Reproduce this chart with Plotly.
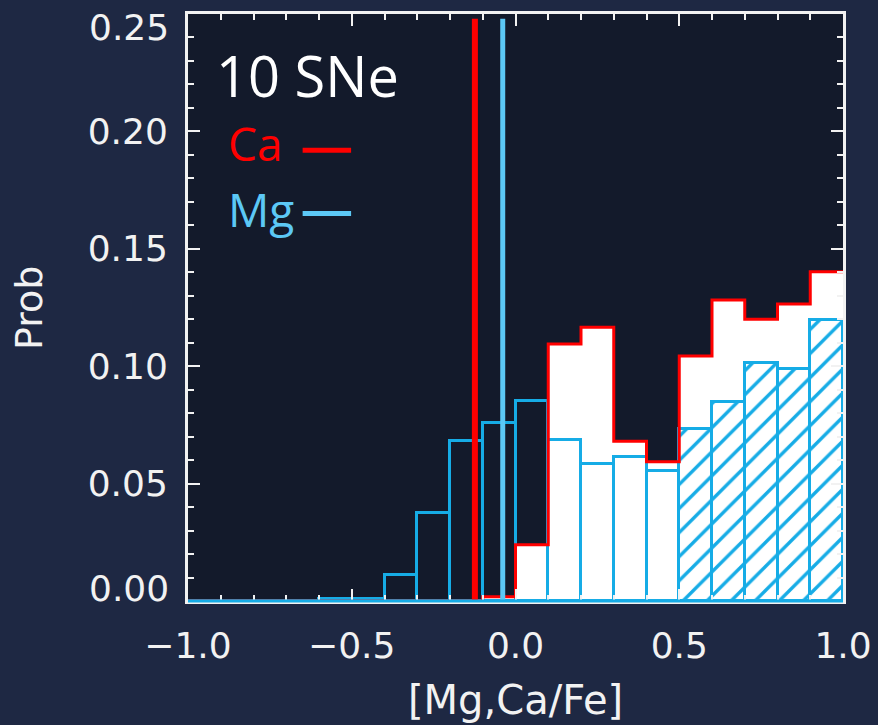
import plotly.graph_objects as go

# Histogram bins: left edges from -1.0 to 0.9, width 0.1
bin_left = [round(-1.0 + 0.1 * i, 1) for i in range(20)]
bin_width = 0.1

# Probability per bin
ca_prob = [0, 0, 0, 0, 0, 0, 0, 0, 0, 0.0018,
           0.024, 0.1095, 0.1166, 0.068, 0.0593, 0.1043, 0.1282, 0.120, 0.1265, 0.1402]
mg_prob = [0, 0, 0, 0, 0.0009, 0.0009, 0.011, 0.0375, 0.068, 0.0757,
           0.085, 0.0686, 0.0582, 0.0615, 0.0555, 0.0731, 0.0849, 0.1015, 0.0987, 0.1197]

# Mean abundance ratios
ca_mean = -0.124
mg_mean = -0.039

# Bins drawn with a hatched fill for Mg
mg_hatch_from = 0.5

x_tickvals = [-1.0, -0.5, 0.0, 0.5, 1.0]
x_ticktext = ["\u22121.0", "\u22120.5", "0.0", "0.5", "1.0"]
# inner y labels go on the axis; the two end labels are set just inside the frame
y_tickvals = [0.05, 0.10, 0.15, 0.20]
y_ticktext = ["0.05", "0.10", "0.15", "0.20"]
y_end_vals = [0.0, 0.25]
y_end_text = ["0.00", "0.25"]

RED = "#ff0000"
MG_BAR = "#16ace6"
MG_LINE = "#5cc8f6"
WHITE = "#f2f2f2"
OUTER_BG = "#1e2843"
INNER_BG = "#131a2b"

centers = [round(x + bin_width / 2, 3) for x in bin_left]
fig = go.Figure()

# Ca: white filled bars
fig.add_trace(go.Bar(
    x=centers, y=ca_prob, width=bin_width,
    marker=dict(color="white", line=dict(width=0)),
    showlegend=False, hoverinfo="skip",
))

# Ca: red step outline
step_x = bin_left + [round(bin_left[-1] + bin_width, 1)]
step_y = ca_prob + [ca_prob[-1]]
fig.add_trace(go.Scatter(
    x=step_x, y=step_y, mode="lines",
    line=dict(color=RED, width=3, shape="hv"),
    showlegend=False, hoverinfo="skip",
))

# Mg: outlined bars, hatched in the upper bins
shapes_mg = ["/" if x >= mg_hatch_from - 1e-9 else "" for x in bin_left]
fig.add_trace(go.Bar(
    x=centers, y=mg_prob, width=bin_width,
    marker=dict(
        color="rgba(0,0,0,0)",
        line=dict(color=MG_BAR, width=3),
        pattern=dict(shape=shapes_mg, fgcolor=MG_BAR, fgopacity=1,
                     bgcolor="rgba(0,0,0,0)",
                     size=17, solidity=0.2, fillmode="overlay"),
    ),
    showlegend=False, hoverinfo="skip",
))

# Mean lines
fig.add_trace(go.Scatter(
    x=[ca_mean, ca_mean], y=[0, 0.248], mode="lines",
    line=dict(color=RED, width=6), showlegend=False, hoverinfo="skip",
))
fig.add_trace(go.Scatter(
    x=[mg_mean, mg_mean], y=[0, 0.248], mode="lines",
    line=dict(color=MG_LINE, width=5), showlegend=False, hoverinfo="skip",
))

TICK_SIZE = 36
axis_font = dict(family="DejaVu Sans", size=TICK_SIZE, color=WHITE)
common = dict(
    showgrid=False, zeroline=False, showline=True, linecolor=WHITE, linewidth=3,
    mirror="allticks", ticks="inside", tickcolor=WHITE, tickwidth=2, ticklen=12,
    tickfont=axis_font, ticklabeloverflow="allow", automargin=False,
)

fig.update_xaxes(
    range=[-1, 1], tickvals=x_tickvals, ticktext=x_ticktext,
    ticklabelstandoff=11,
    minor=dict(dtick=0.1, ticks="inside", ticklen=6, tickcolor=WHITE, tickwidth=2),
    **common,
)
fig.update_yaxes(
    range=[0, 0.25],
    tickvals=y_end_vals[:1] + y_tickvals + y_end_vals[1:],
    ticktext=[""] + y_ticktext + [""],
    ticklabelstandoff=10,
    minor=dict(dtick=0.01, ticks="inside", ticklen=6, tickcolor=WHITE, tickwidth=2),
    **common,
)

W, H = 878, 725
ML, MR, MT, MB = 188, 35, 14, 124
pw, ph = W - ML - MR, H - MT - MB

annotations = [
    dict(text="10 SNe", x=-0.92, y=0.224, xref="x", yref="y", xanchor="left", yanchor="middle",
         showarrow=False, font=dict(family="Open Sans", size=56, color="white")),
    dict(text="Ca", x=-0.885, y=0.195, xref="x", yref="y", xanchor="left", yanchor="middle",
         showarrow=False, font=dict(family="Open Sans", size=46, color=RED)),
    dict(text="Mg", x=-0.885, y=0.167, xref="x", yref="y", xanchor="left", yanchor="middle",
         showarrow=False, font=dict(family="Open Sans", size=46, color=MG_LINE)),
    dict(text="Prob", x=(29 - ML) / pw, y=(H - MB - 308) / ph, xref="paper", yref="paper",
         showarrow=False, textangle=-90, xanchor="center", yanchor="middle",
         font=dict(family="DejaVu Sans", size=38, color=WHITE)),
    dict(text="[Mg,Ca/Fe]", x=(515 - ML) / pw, y=(H - MB - 700) / ph, xref="paper", yref="paper",
         showarrow=False, xanchor="center", yanchor="middle",
         font=dict(family="DejaVu Sans", size=40, color=WHITE)),
]
for val, txt, shift in zip(y_end_vals, y_end_text, [13, -13]):
    annotations.append(dict(
        text=txt, x=0, y=val, xref="paper", yref="y", xanchor="right", yanchor="middle",
        xshift=-17, yshift=shift, showarrow=False, font=axis_font,
    ))

shapes = [
    # legend keys
    dict(type="line", xref="x", yref="y", x0=-0.65, x1=-0.502, y0=0.192, y1=0.192,
         line=dict(color=RED, width=5)),
    dict(type="line", xref="x", yref="y", x0=-0.65, x1=-0.502, y0=0.165, y1=0.165,
         line=dict(color=MG_LINE, width=5)),
    # histogram baseline
    dict(type="line", xref="paper", yref="paper", x0=0, x1=1, y0=0, y1=0,
         line=dict(color=MG_BAR, width=3), layer="above"),
]

fig.update_layout(
    width=W, height=H,
    margin=dict(l=ML, r=MR, t=MT, b=MB),
    paper_bgcolor=OUTER_BG, plot_bgcolor=INNER_BG,
    barmode="overlay", bargap=0,
    annotations=annotations, shapes=shapes,
    showlegend=False,
)

fig.write_html("out.html")
